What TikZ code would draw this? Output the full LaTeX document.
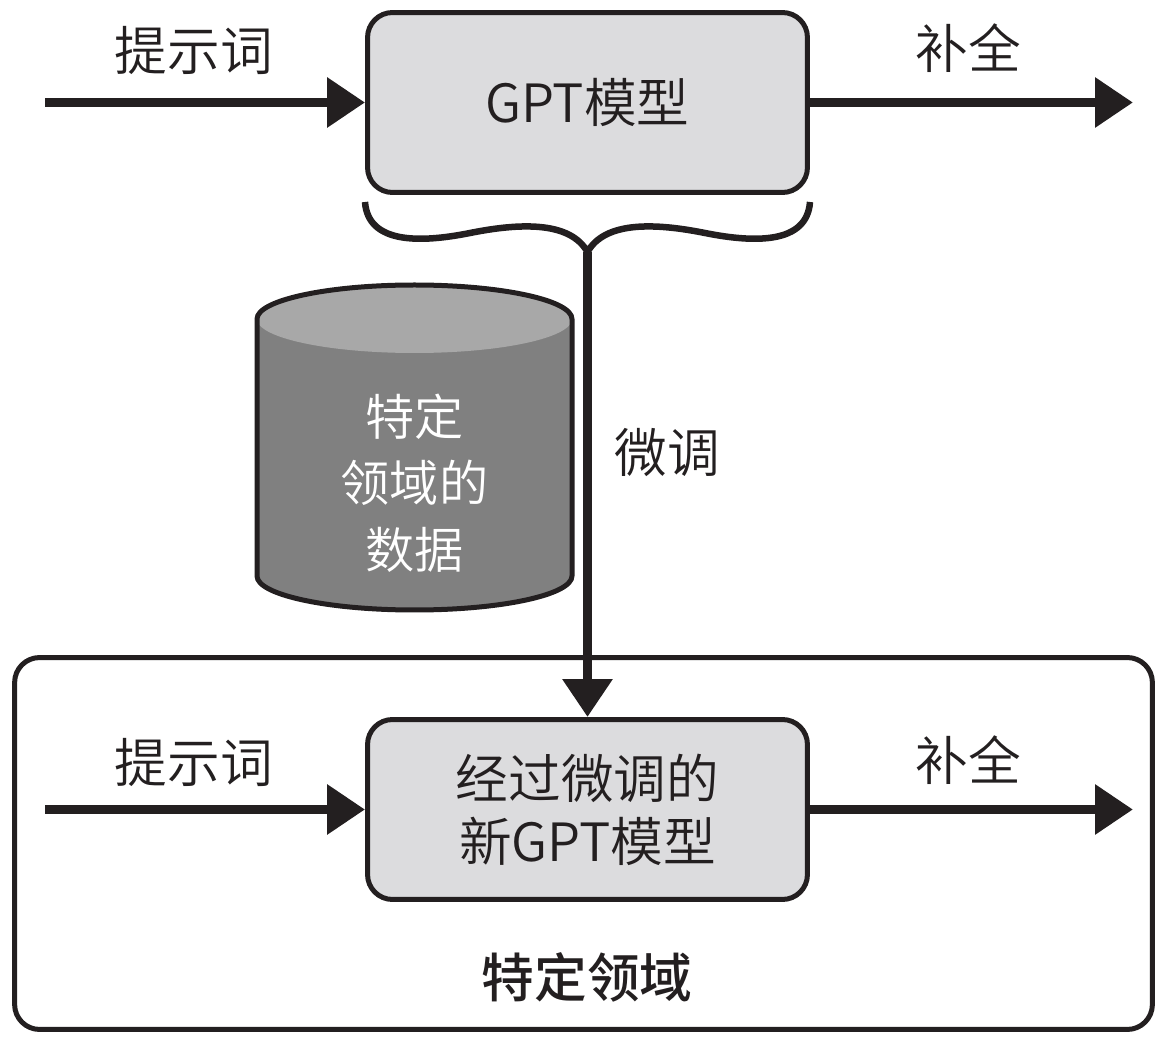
\documentclass[tikz,border=0pt]{standalone}
\usepackage{fontspec}
\setmainfont{Noto Sans CJK SC DemiLight}[BoldFont={Noto Sans CJK SC Medium}]
\usetikzlibrary{arrows.meta}
\definecolor{ink}{HTML}{231F20}
\definecolor{boxgray}{HTML}{DCDCDE}
\definecolor{drumdark}{HTML}{808080}
\definecolor{drumlight}{HTML}{A8A8A8}

\begin{document}
\begin{tikzpicture}
[x=0.02cm,y=0.02cm,line join=round,
 every node/.style={font=\fontsize{30}{36}\selectfont,text=ink,align=center},
 model/.style={draw=ink,line width=0.1cm,fill=boxgray,rounded corners=0.5cm,
   minimum width=8.8cm,minimum height=3.6cm},
 domainbox/.style={draw=ink,line width=0.1cm,rounded corners=0.5cm,
   minimum width=22.76cm,minimum height=7.44cm},
 arrow/.style={draw=ink,line width=0.19cm,-{Triangle[length=0.76cm,width=0.96cm]}}]
\useasboundingbox (0,0) rectangle (1161,1036);

\node[domainbox] (domain) at (583.5,192.5) {};
\node[model] (gpt) at (587.5,933.5) {GPT模型};
\node[model] (ftgpt) at (587.5,226.5) {经过微调的\\新GPT模型};

\node (prompt1) at (194,986) {提示词};
\node (compl1) at (968,988) {补全};
\node (prompt2) at (194,274) {提示词};
\node (compl2) at (968,276) {补全};
\node (tune) at (667,583) {微调};
\node[font=\fontsize{30}{36}\selectfont\bfseries] (domainlabel) at (587,59) {特定领域};

\coordinate (in1) at (45,933.5);
\coordinate (out1) at (1133,933.5);
\coordinate (in2) at (45,226.5);
\coordinate (out2) at (1133,226.5);
\coordinate (tip) at (587.5,784);

% data cylinder
\fill[drumdark] (257,717) -- (257,460)
  arc[start angle=180,end angle=360,x radius=157.5,y radius=34] -- (572,717) -- cycle;
\fill[drumlight] (414.5,717) ellipse[x radius=157.5,y radius=34];
\draw[ink,line width=0.1cm] (257,717) -- (257,460)
  arc[start angle=180,end angle=360,x radius=157.5,y radius=34] -- (572,717)
  arc[start angle=0,end angle=180,x radius=157.5,y radius=34] -- cycle;
\node[font=\fontsize{28}{38}\selectfont,text=white] (data) at (414.5,553) {特定\\领域的\\数据};

% brace under the model
\draw[ink,line width=0.13cm] (365,834) .. controls (368,792) and (420,793) .. (470,803)
  .. controls (520,813) and (570,815) .. (tip)
  .. controls (605,815) and (655,813) .. (705,803)
  .. controls (755,793) and (807,792) .. (810,834);

\foreach \from/\to in {in1/gpt.west,gpt.east/out1,tip/ftgpt.north,in2/ftgpt.west,ftgpt.east/out2}
\draw[arrow] (\from) -- (\to);

\end{tikzpicture}
\end{document}
